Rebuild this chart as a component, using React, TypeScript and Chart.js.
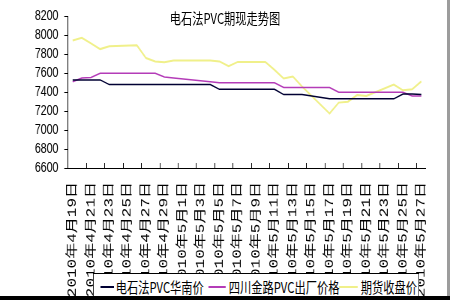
import React, { useEffect, useRef } from 'react';
import { Chart, registerables } from 'chart.js';

Chart.register(...registerables);

const dates = [
  '2010年4月19日', '2010年4月20日', '2010年4月21日', '2010年4月22日', '2010年4月23日',
  '2010年4月24日', '2010年4月25日', '2010年4月26日', '2010年4月27日', '2010年4月28日',
  '2010年4月29日', '2010年4月30日', '2010年5月1日', '2010年5月2日', '2010年5月3日',
  '2010年5月4日', '2010年5月5日', '2010年5月6日', '2010年5月7日', '2010年5月8日',
  '2010年5月9日', '2010年5月10日', '2010年5月11日', '2010年5月12日', '2010年5月13日',
  '2010年5月14日', '2010年5月15日', '2010年5月16日', '2010年5月17日', '2010年5月18日',
  '2010年5月19日', '2010年5月20日', '2010年5月21日', '2010年5月22日', '2010年5月23日',
  '2010年5月24日', '2010年5月25日', '2010年5月26日', '2010年5月27日',
];

// null = no quote that day (weekend / holiday)
const southChinaPrice = [
  7530, 7530, 7530, 7530, 7480, null, null, 7480, 7480, 7480,
  7480, 7480, null, null, null, 7480, 7430, 7430, 7430, null,
  null, 7430, 7430, 7375, 7375, 7375, null, null, 7330, 7330,
  7330, 7330, 7330, null, null, 7330, 7380, 7380, 7375,
];

const jinluPrice = [
  7510, 7550, 7555, 7600, 7600, null, null, 7600, 7600, 7600,
  7560, 7550, null, null, null, 7510, 7500, 7500, 7500, null,
  null, 7500, 7500, 7450, 7450, 7450, null, null, 7450, 7400,
  7400, 7400, 7400, null, null, 7400, 7400, 7360, 7360,
];

const futuresClose = [
  7945, 7975, 7915, 7855, 7885, null, null, 7895, 7760, 7725,
  7715, 7735, null, null, null, 7735, 7725, 7675, 7720, null,
  null, 7720, 7635, 7545, 7565, 7460, null, null, 7175, 7290,
  7300, 7370, 7360, null, null, 7480, 7420, 7430, 7515,
];

const seriesNames = ['电石法PVC华南价', '四川金路PVC出厂价格', '期货收盘价'];
const seriesColors = ['#000033', '#B43CB8', '#F0F08A'];
const seriesWidths = [1.5, 1.5, 2];
const titleText = '电石法PVC期现走势图';
const yMin = 6600;
const yMax = 8200;
const yStep = 200;

const cjk = '"Noto Sans CJK SC", sans-serif';

export default function App() {
  const ref = useRef<HTMLCanvasElement>(null);

  useEffect(() => {
    const values = [southChinaPrice, jinluPrice, futuresClose];
    const chart = new Chart(ref.current as HTMLCanvasElement, {
      type: 'line',
      data: {
        labels: dates,
        datasets: values.map((d, k) => ({
          label: seriesNames[k],
          data: d,
          borderColor: seriesColors[k],
          backgroundColor: seriesColors[k],
          borderWidth: seriesWidths[k],
          pointRadius: 0,
          tension: 0,
          spanGaps: true,
        })),
      },
      options: {
        responsive: false,
        animation: false,
        devicePixelRatio: 1,
        layout: { padding: { top: 12, right: 3, bottom: 0, left: 0 } },
        plugins: {
          legend: { display: false },
          title: { display: false },
          tooltip: { enabled: false },
        },
        scales: {
          x: {
            type: 'category',
            offset: true,
            grid: {
              offset: true,
              drawOnChartArea: false,
              drawTicks: true,
              tickLength: -5,
              tickWidth: 1,
              tickColor: (ctx: any) => (ctx.index % 2 === 0 ? '#000' : 'rgba(0,0,0,0)'),
            },
            border: { display: true, color: '#000', width: 1 },
            ticks: {
              autoSkip: false,
              maxRotation: 90,
              minRotation: 90,
              padding: 19,
              color: '#000',
              font: { family: '"Liberation Mono", "Noto Sans CJK SC", monospace', size: 16 },
              callback: (_v: any, i: number) => (i % 2 === 0 ? dates[i] : ''),
            },
            afterFit: (s: any) => {
              s.height = 132;
            },
          },
          y: {
            min: yMin,
            max: yMax,
            grid: { drawOnChartArea: false, drawTicks: true, tickLength: 5, tickColor: '#000' },
            border: { display: true, color: '#000', width: 1 },
            ticks: {
              stepSize: yStep,
              autoSkip: false,
              padding: 8,
              color: '#000',
              font: { family: '"Liberation Sans", Arial, sans-serif', size: 14 },
              callback: (v: any) => String(v),
            },
            afterFit: (s: any) => {
              s.width = 90.7;
            },
          },
        },
      } as any,
    });
    return () => chart.destroy();
  }, []);

  const legendItems = [
    { sample: 9.3, sw: 17.4, text: 29.3 },
    { sample: 153, sw: 23, text: 180 },
    { sample: 326.7, sw: 25.3, text: 356 },
  ];

  return (
    <div
      style={{
        position: 'absolute',
        left: 0,
        top: 0,
        width: 600,
        height: 300,
        transform: 'scaleX(0.75)',
        transformOrigin: '0 0',
        background: '#fff',
        overflow: 'hidden',
      }}
    >
      <canvas ref={ref} width={600} height={300} style={{ display: 'block', width: 600, height: 300 }} />
      <div
        style={{
          position: 'absolute',
          left: 0,
          top: 9,
          width: 600,
          textAlign: 'center',
          fontFamily: cjk,
          fontSize: 15,
          lineHeight: '18px',
          color: '#000',
        }}
      >
        {titleText}
      </div>
      <div
        style={{
          position: 'absolute',
          left: 124,
          top: 273,
          width: 435,
          height: 30,
          boxSizing: 'border-box',
          borderTop: '1px solid #000',
          borderBottom: '1px solid #000',
          borderLeft: '1.33px solid #000',
          borderRight: '1.33px solid #000',
          background: '#fff',
        }}
      >
        {legendItems.map((it, k) => (
          <React.Fragment key={k}>
            <div
              style={{
                position: 'absolute',
                left: it.sample,
                top: 12,
                width: it.sw,
                height: 2,
                background: seriesColors[k],
              }}
            />
            <div
              style={{
                position: 'absolute',
                left: it.text,
                top: 4,
                fontFamily: cjk,
                fontSize: 15,
                lineHeight: '18px',
                whiteSpace: 'nowrap',
                color: '#000',
              }}
            >
              {seriesNames[k]}
            </div>
          </React.Fragment>
        ))}
      </div>
      <div style={{ position: 'absolute', left: 596, top: 0, width: 4, height: 300, background: '#9c9c9c' }} />
      <div style={{ position: 'absolute', left: 0, top: 296, width: 600, height: 4, background: '#000' }} />
    </div>
  );
}
